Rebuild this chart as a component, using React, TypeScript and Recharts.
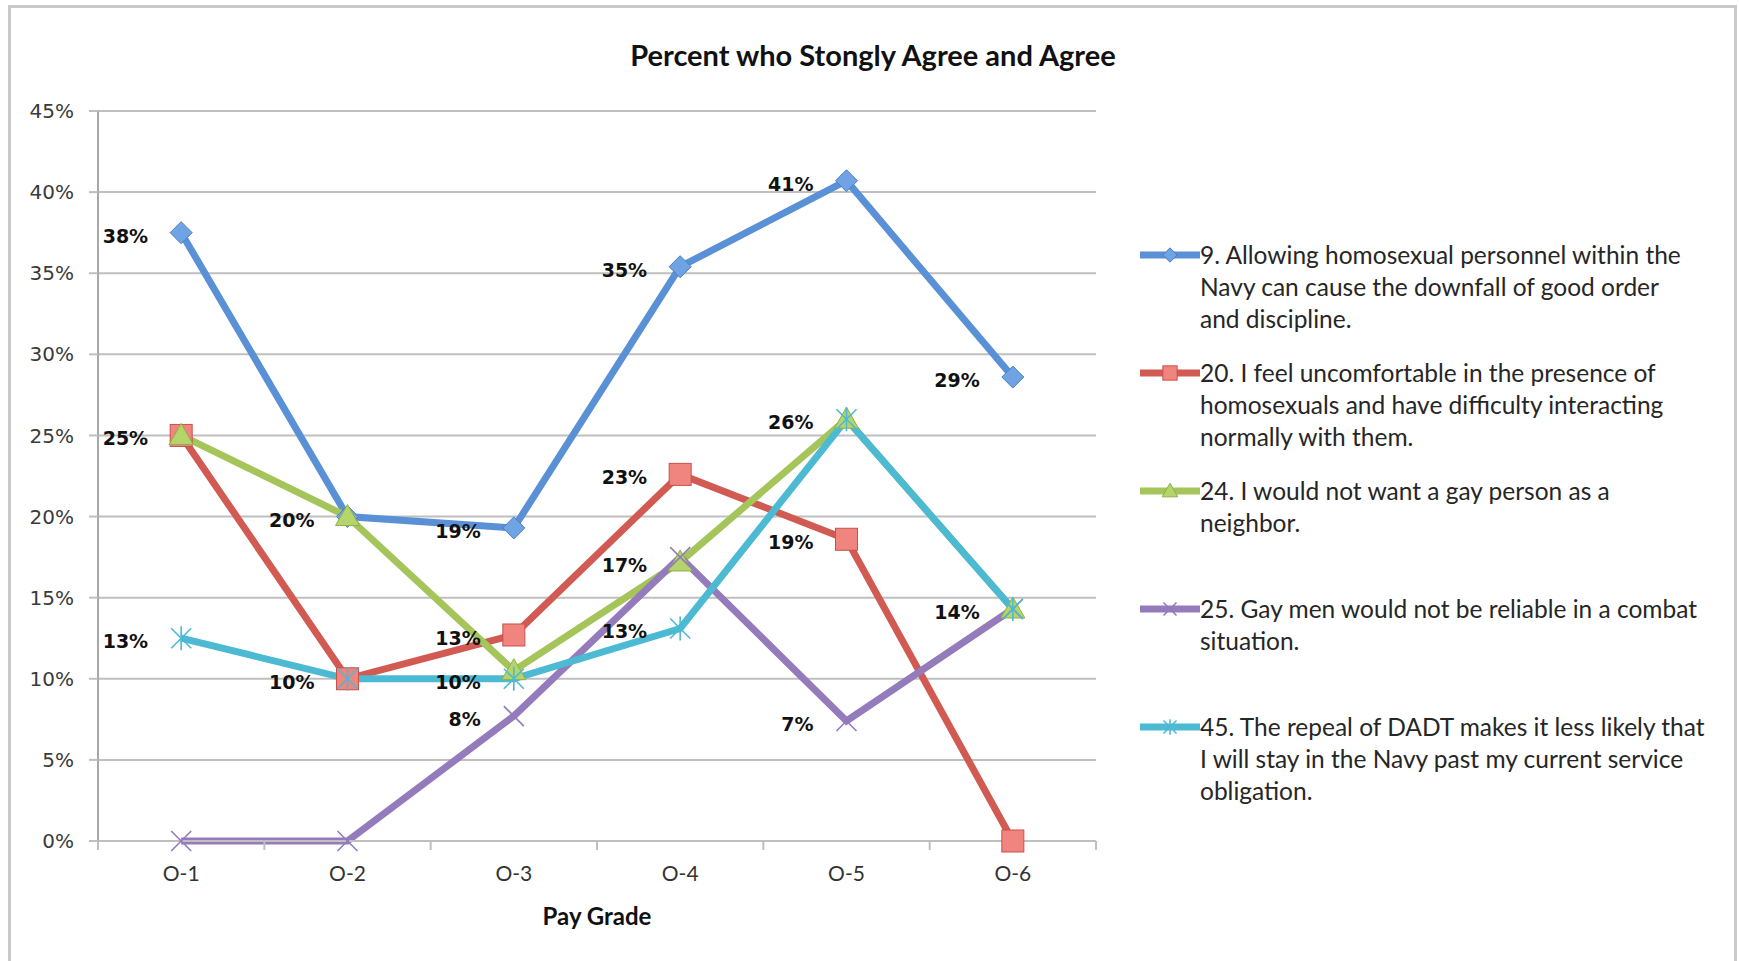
import React from 'react';
import { LineChart, Line, XAxis, YAxis, CartesianGrid, LabelList } from 'recharts';

// ---- data ----
const payGrades = ['O-1', 'O-2', 'O-3', 'O-4', 'O-5', 'O-6'];
const q9 = [37.5, 20.0, 19.3, 35.4, 40.7, 28.6];
const q20 = [25.0, 10.0, 12.7, 22.6, 18.6, 0];
const q24 = [25.0, 20.0, 10.5, 17.2, 26.0, 14.3];
const q25 = [0, 0, 7.7, 17.5, 7.4, 14.3];
const q45 = [12.5, 10.0, 10.0, 13.1, 26.0, 14.3];
const yTicks = [0, 5, 10, 15, 20, 25, 30, 35, 40, 45];

// which points carry a data label
const show9 = [true, false, true, true, true, true];
const show20 = [true, true, true, true, true, false];
const show24 = [false, true, false, true, true, true];
const show25 = [false, false, true, false, true, false];
const show45 = [true, false, true, true, false, false];

const legend9 = ['9. Allowing homosexual personnel within the', 'Navy can cause the downfall of good order', 'and discipline.'];
const legend20 = ['20. I feel uncomfortable in the presence of', 'homosexuals and have difficulty interacting', 'normally with them.'];
const legend24 = ['24. I would not want a gay person as a', 'neighbor.'];
const legend25 = ['25. Gay men would not be reliable in a combat', 'situation.'];
const legend45 = ['45. The repeal of DADT makes it less likely that', 'I will stay in the Navy past my current service', 'obligation.'];

const title = 'Percent who Stongly Agree and Agree';
const xTitle = 'Pay Grade';

// ---- layout / style ----
const W = 1739;
const H = 961;
const PLOT_LEFT = 98;
const PLOT_RIGHT = 1096;
const PLOT_TOP = 111;
const PLOT_BOTTOM = 841;
const STEP = (PLOT_RIGHT - PLOT_LEFT) / payGrades.length;
const GRID = '#BFBFBF';

type Shape = 'diamond' | 'square' | 'triangle' | 'x' | 'star';

const series = [
  { key: 'q9', values: q9, show: show9, legend: legend9, color: '#5A90D5', fill: '#6FA3E3', edge: '#4A7FC4', shape: 'diamond' as Shape },
  { key: 'q20', values: q20, show: show20, legend: legend20, color: '#D15A53', fill: '#F0847E', edge: '#C9504B', shape: 'square' as Shape },
  { key: 'q24', values: q24, show: show24, legend: legend24, color: '#A5C55A', fill: '#B5D46C', edge: '#8FB046', shape: 'triangle' as Shape },
  { key: 'q25', values: q25, show: show25, legend: legend25, color: '#937BBC', fill: '#937BBC', edge: '#937BBC', shape: 'x' as Shape },
  { key: 'q45', values: q45, show: show45, legend: legend45, color: '#4CBAD3', fill: '#4CBAD3', edge: '#4CBAD3', shape: 'star' as Shape },
];

const data = payGrades.map((g, i) => {
  const row: Record<string, any> = { grade: g };
  series.forEach((s) => {
    row[s.key] = s.values[i];
  });
  return row;
});

function MarkerShape({ shape, cx, cy, fill, edge, scale = 1 }: { shape: Shape; cx: number; cy: number; fill: string; edge: string; scale?: number }) {
  if (shape === 'diamond') {
    const r = 11 * scale;
    return <polygon points={`${cx},${cy - r} ${cx + r},${cy} ${cx},${cy + r} ${cx - r},${cy}`} fill={fill} stroke={edge} strokeWidth={1} />;
  }
  if (shape === 'square') {
    const s = 22 * scale;
    return <rect x={cx - s / 2} y={cy - s / 2} width={s} height={s} fill={fill} stroke={edge} strokeWidth={1} />;
  }
  if (shape === 'triangle') {
    const r = 12 * scale;
    return <polygon points={`${cx},${cy - r} ${cx + r},${cy + r * 0.75} ${cx - r},${cy + r * 0.75}`} fill={fill} stroke={edge} strokeWidth={1} />;
  }
  if (shape === 'x') {
    const r = 10 * scale;
    return (
      <g stroke={edge} strokeWidth={1.6}>
        <line x1={cx - r} y1={cy - r} x2={cx + r} y2={cy + r} />
        <line x1={cx - r} y1={cy + r} x2={cx + r} y2={cy - r} />
      </g>
    );
  }
  const r = 10 * scale;
  return (
    <g stroke={edge} strokeWidth={1.6}>
      <line x1={cx - r} y1={cy - r} x2={cx + r} y2={cy + r} />
      <line x1={cx - r} y1={cy + r} x2={cx + r} y2={cy - r} />
      <line x1={cx} y1={cy - r * 1.2} x2={cx} y2={cy + r * 1.2} />
    </g>
  );
}

const XTick = (props: any) => {
  const { x, payload, index } = props;
  const last = index === payGrades.length - 1;
  return (
    <g>
      <line x1={x - STEP / 2} x2={x - STEP / 2} y1={PLOT_BOTTOM} y2={PLOT_BOTTOM + 9} stroke={GRID} strokeWidth={2} />
      {last && <line x1={x + STEP / 2} x2={x + STEP / 2} y1={PLOT_BOTTOM} y2={PLOT_BOTTOM + 9} stroke={GRID} strokeWidth={2} />}
      <text x={x} y={PLOT_BOTTOM + 40} textAnchor="middle" fontFamily="Lato, sans-serif" fontSize={21} fill="#333">
        {payload.value}
      </text>
    </g>
  );
};

const XTitle = () => (
  <text x={(PLOT_LEFT + PLOT_RIGHT) / 2} y={PLOT_BOTTOM + 84} textAnchor="middle" fontFamily="Lato, sans-serif" fontWeight="bold" fontSize={24} fill="#111">
    {xTitle}
  </text>
);

function makeLabel(show: boolean[]) {
  return (props: any) => {
    const { x, y, value, index } = props;
    if (!show[index]) return null;
    return (
      <text key={`lbl-${index}`} x={x - 33} y={y + 10} textAnchor="end" fontFamily="'DejaVu Sans', sans-serif" fontWeight="bold" fontSize={19} fill="#111">
        {`${Math.round(value)}%`}
      </text>
    );
  };
}

function makeDot(s: (typeof series)[number]) {
  return (props: any) => {
    const { cx, cy, index } = props;
    return (
      <g key={`${s.key}-dot-${index}`}>
        <MarkerShape shape={s.shape} cx={cx} cy={cy} fill={s.fill} edge={s.edge} />
      </g>
    );
  };
}

const LEGEND_TOP = 255;
const LEGEND_GAP = 118;
const LINE_H = 32;

export default function App() {
  return (
    <div style={{ position: 'fixed', left: 0, top: 0, width: W, height: H, overflow: 'hidden', background: '#fff' }}>
      <div style={{ position: 'absolute', left: 8, top: 5, width: 1723, height: 1000, border: '3px solid #CACACA' }} />
      <div
        style={{
          position: 'absolute',
          left: 0,
          width: 1746,
          top: 36,
          textAlign: 'center',
          fontFamily: 'Lato, sans-serif',
          fontWeight: 'bold',
          fontSize: 29,
          color: '#111',
          lineHeight: '38px',
        }}
      >
        {title}
      </div>
      <div style={{ position: 'absolute', left: 0, top: 0 }}>
        <LineChart width={W} height={H} data={data} margin={{ top: PLOT_TOP, right: W - PLOT_RIGHT, bottom: 0, left: 0 }}>
          <CartesianGrid horizontal vertical={false} stroke={GRID} strokeWidth={2} />
          <XAxis
            dataKey="grade"
            height={H - PLOT_BOTTOM}
            padding={{ left: STEP / 2, right: STEP / 2 }}
            axisLine={{ stroke: GRID, strokeWidth: 2 }}
            tickLine={false}
            tick={<XTick />}
            interval={0}
            label={<XTitle />}
          />
          <YAxis
            width={PLOT_LEFT}
            domain={[0, 45]}
            ticks={yTicks}
            interval={0}
            tickSize={9}
            tickMargin={15}
            axisLine={{ stroke: '#A8A8A8', strokeWidth: 2 }}
            tickLine={{ stroke: GRID, strokeWidth: 2 }}
            tickFormatter={(v: number) => `${v}%`}
            tick={{ fontFamily: "'DejaVu Sans', sans-serif", fontSize: 20, fill: '#3A3A3A' }}
          />
          {series.map((s) => (
            <Line
              key={s.key}
              type="linear"
              dataKey={s.key}
              stroke={s.color}
              strokeWidth={7}
              dot={makeDot(s)}
              activeDot={false}
              isAnimationActive={false}
            >
              <LabelList dataKey={s.key} content={makeLabel(s.show)} />
            </Line>
          ))}
        </LineChart>
      </div>
      {series.map((s, i) => {
        const top = LEGEND_TOP + i * LEGEND_GAP;
        return (
          <div key={s.key} style={{ position: 'absolute', left: 1140, top: top - LINE_H / 2, width: 590 }}>
            <svg width={60} height={LINE_H} style={{ position: 'absolute', left: 0, top: 0 }}>
              <line x1={0} x2={60} y1={LINE_H / 2} y2={LINE_H / 2} stroke={s.color} strokeWidth={7} />
              <MarkerShape shape={s.shape} cx={30} cy={LINE_H / 2} fill={s.fill} edge={s.edge} scale={0.65} />
            </svg>
            <div style={{ position: 'absolute', left: 60, top: 0, fontFamily: 'Lato, sans-serif', fontSize: 24.5, color: '#262626', lineHeight: `${LINE_H}px`, whiteSpace: 'nowrap' }}>
              {s.legend.map((ln, j) => (
                <div key={j}>{ln}</div>
              ))}
            </div>
          </div>
        );
      })}
    </div>
  );
}
